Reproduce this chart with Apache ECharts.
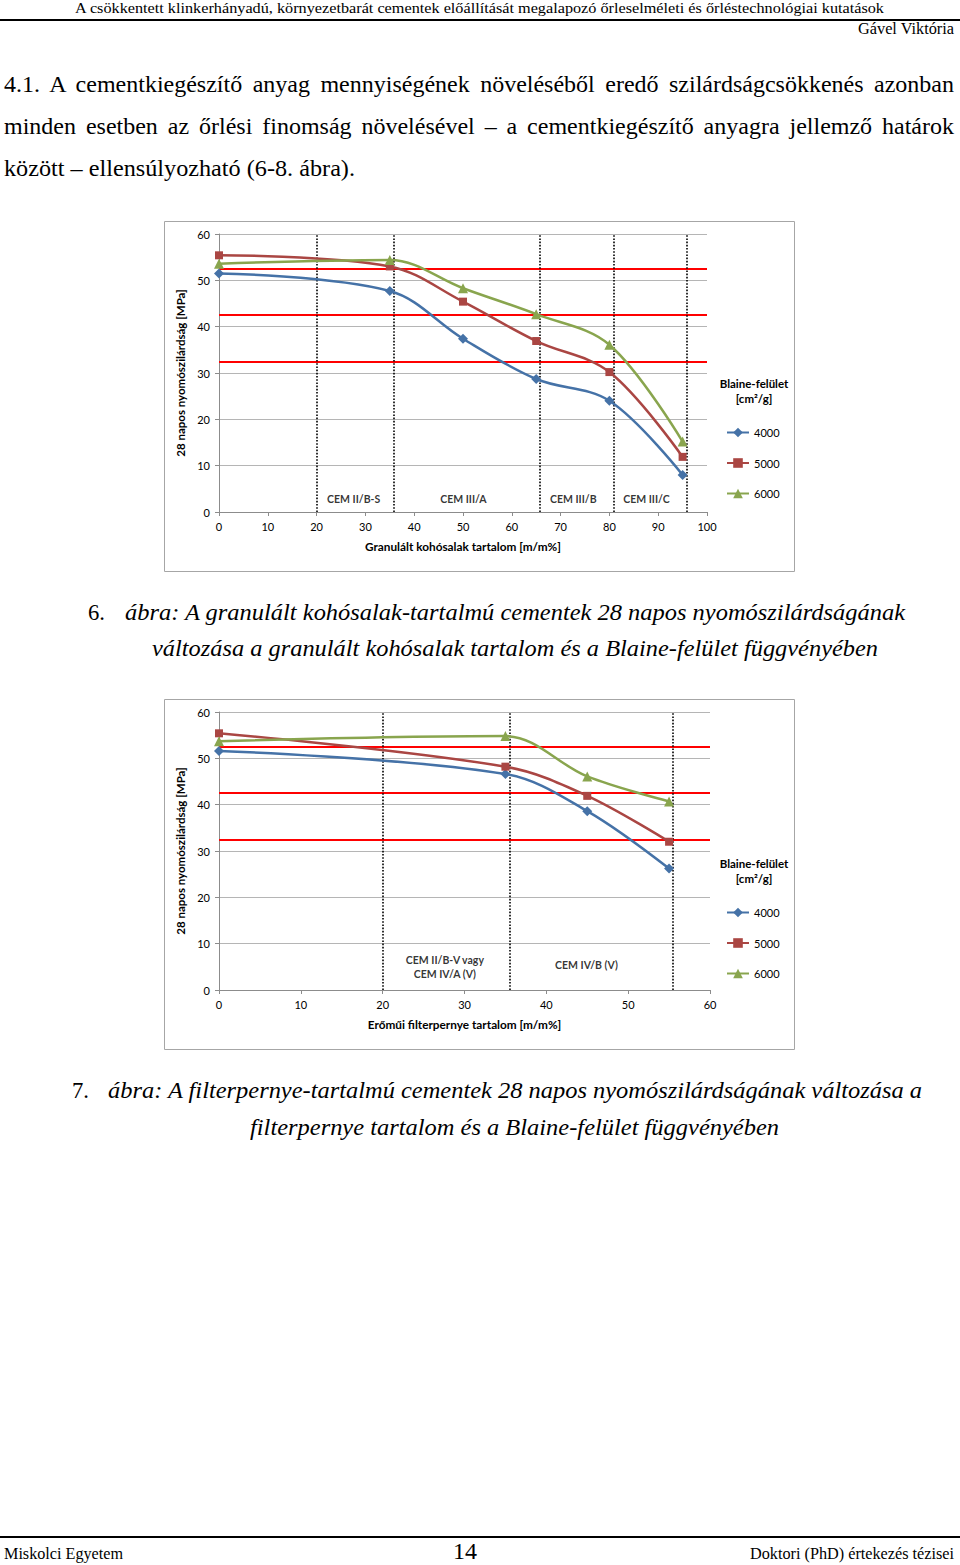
<!DOCTYPE html>
<html>
<head>
<meta charset="utf-8">
<script src="https://cdn.jsdelivr.net/npm/echarts/dist/echarts.min.js"></script>
<style>
  html, body { margin:0; padding:0; background:#fff; }
  body { width:960px; height:1565px; position:relative; overflow:hidden; }
  .t { position:absolute; white-space:nowrap; line-height:1; font-family:"Liberation Serif","Times New Roman",serif; color:#000; transform-origin:0 50%; }
  .i { font-style:italic; }
  .rule { position:absolute; left:0; width:960px; background:#000; }
  .chart { position:absolute; left:164px; width:631px; height:352px; }
</style>
</head>
<body>
<div class="rule" style="top:19px;height:2px;"></div>
<div class="rule" style="top:1536px;height:1.5px;"></div>

<div class="t" data-x1="75" data-x2="884" data-cy="8" style="font-size:15px">A csökkentett klinkerhányadú, környezetbarát cementek előállítását megalapozó őrleselméleti és őrléstechnológiai kutatások</div>
<div class="t" data-x1="858" data-x2="954" data-cy="29" style="font-size:16px">Gável Viktória</div>

<div class="t" data-x1="4" data-x2="954" data-cy="84" data-just="1" style="font-size:24px">4.1. A cementkiegészítő anyag mennyiségének növeléséből eredő szilárdságcsökkenés azonban</div>
<div class="t" data-x1="4" data-x2="954" data-cy="126" data-just="1" style="font-size:24px">minden esetben az őrlési finomság növelésével – a cementkiegészítő anyagra jellemző határok</div>
<div class="t" data-x1="4" data-x2="355" data-cy="168" style="font-size:24px">között – ellensúlyozható (6-8. ábra).</div>

<div id="c1" class="chart" style="top:221px"></div>

<div class="t" data-x1="88" data-x2="105" data-cy="612" style="font-size:23px">6.</div>
<div class="t i" data-x1="125" data-x2="905" data-cy="612" style="font-size:24px">ábra: A granulált kohósalak-tartalmú cementek 28 napos nyomószilárdságának</div>
<div class="t i" data-x1="152" data-x2="878" data-cy="648" style="font-size:24px">változása a granulált kohósalak tartalom és a Blaine-felület függvényében</div>

<div id="c2" class="chart" style="top:699px"></div>

<div class="t" data-x1="72" data-x2="89" data-cy="1090" style="font-size:23px">7.</div>
<div class="t i" data-x1="108" data-x2="922" data-cy="1090" style="font-size:24px">ábra: A filterpernye-tartalmú cementek 28 napos nyomószilárdságának változása a</div>
<div class="t i" data-x1="250" data-x2="779" data-cy="1127" style="font-size:24px">filterpernye tartalom és a Blaine-felület függvényében</div>

<div class="t" data-x1="4" data-x2="123" data-cy="1554" style="font-size:16px">Miskolci Egyetem</div>
<div class="t" data-x1="453" data-x2="477" data-cy="1551" style="font-size:24px">14</div>
<div class="t" data-x1="750" data-x2="954" data-cy="1554" style="font-size:16px">Doktori (PhD) értekezés tézisei</div>

<script>
// ---- Data: figure 6 (granulated blast-furnace slag) ----
var slagX    = [0, 35, 50, 65, 80, 95];
var slag4000 = [51.5, 47.7, 37.4, 28.7, 24.0, 8.0];
var slag5000 = [55.4, 53.0, 45.4, 36.9, 30.2, 11.9];
var slag6000 = [53.6, 54.4, 48.3, 42.7, 36.1, 15.2];
var slagBounds = [20, 35.8, 65.8, 80.9, 95.9];
var slagClasses = ['CEM II/B-S', 'CEM III/A', 'CEM III/B', 'CEM III/C'];
var slagClassX  = [27.6, 50.1, 72.6, 87.6];
var slagClassY  = [2.75, 2.75, 2.75, 2.75];

// ---- Data: figure 7 (fly ash) ----
var ashX    = [0, 35, 45, 55];
var ash4000 = [51.6, 46.6, 38.6, 26.2];
var ash5000 = [55.4, 48.2, 41.9, 32.0];
var ash6000 = [53.7, 54.8, 46.1, 40.7];
var ashBounds = [20, 35.5, 55.5];
var ashClasses = ['CEM II/B-V vagy\nCEM IV/A (V)', 'CEM IV/B (V)'];
var ashClassX  = [27.6, 44.9];
var ashClassY  = [5.0, 5.5];

// ---- Shared ----
var strengthLimits = [52.5, 42.5, 32.5];
var seriesNames = ['4000', '5000', '6000'];
var yTicks = [0, 60, 10];

// ---- Page text fitting ----
document.querySelectorAll('.t').forEach(function (el) {
  var r = el.getBoundingClientRect();
  var w = r.width, h = r.height;
  var cy = +el.dataset.cy;
  var x1 = +el.dataset.x1, x2 = +el.dataset.x2;
  el.style.top = (cy - h / 2) + 'px';
  el.style.left = x1 + 'px';
  if (el.dataset.just) {
    var spaces = (el.textContent.match(/ /g) || []).length;
    el.style.wordSpacing = ((x2 - x1 - w) / spaces) + 'px';
  } else {
    el.style.transform = 'scaleX(' + ((x2 - x1) / w) + ')';
  }
});

// ---- Charts ----
var COLORS = ['#4572A7', '#AA4643', '#89A54E'];
var SYMBOLS = ['diamond', 'rect', 'triangle'];
var SYMSIZE = [10, 8, 10];
var FONT = 'Lato, "Open Sans", sans-serif';

function makeChart(id, cfg) {
  var chart = echarts.init(document.getElementById(id), null, { renderer: 'svg' });
  var series = cfg.values.map(function (vals, k) {
    return {
      name: seriesNames[k],
      type: 'line',
      smooth: 0.35,
      data: cfg.xs.map(function (x, i) { return [x, vals[i]]; }),
      symbol: SYMBOLS[k],
      symbolSize: SYMSIZE[k],
      lineStyle: { width: 2.5, color: COLORS[k] },
      itemStyle: { color: COLORS[k] },
      z: 5
    };
  });
  series.push({
    type: 'scatter',
    silent: true,
    symbolSize: 0,
    z: 2,
    data: cfg.classes.map(function (c, i) { return { value: [cfg.classX[i], cfg.classY[i]], name: c }; }),
    label: {
      show: true, position: 'inside', formatter: function (p) { return p.name; },
      fontFamily: FONT, fontSize: 10.5, fontWeight: 'bold', color: '#000', lineHeight: 14
    },
    markLine: {
      silent: true, symbol: 'none', animation: false,
      label: { show: false },
      data: strengthLimits.map(function (v) {
        return { yAxis: v, lineStyle: { color: '#ff0000', width: 2, type: 'solid' } };
      }).concat(cfg.bounds.map(function (v) {
        return { xAxis: v, lineStyle: { color: '#000', width: 1.6, type: [1.6, 1.6] } };
      }))
    }
  });
  chart.setOption({
    animation: false,
    grid: { left: 55, right: cfg.gridRight, top: 13, bottom: 61 },
    graphic: [
      { type: 'rect', shape: { x: 0.5, y: 0.5, width: 630, height: 350 }, style: { fill: 'none', stroke: '#a6a6a6', lineWidth: 1 } },
      { type: 'text', x: 590, y: cfg.legTitleY, style: { text: 'Blaine-felület', fontFamily: FONT, fontSize: 11.5, fontWeight: 'bold', fill: '#000', align: 'center', verticalAlign: 'middle' } },
      { type: 'text', x: 590, y: cfg.legTitleY + 15, style: { text: '[cm²/g]', fontFamily: FONT, fontSize: 11.5, fontWeight: 'bold', fill: '#000', align: 'center', verticalAlign: 'middle' } }
    ],
    legend: {
      data: seriesNames, orient: 'vertical', left: 557, top: cfg.legTop, itemGap: 19.5,
      itemWidth: 22, itemHeight: 12,
      textStyle: { fontFamily: FONT, fontSize: 11, color: '#000' }
    },
    xAxis: {
      type: 'value', min: 0, max: cfg.xMax, interval: 10,
      name: cfg.xName, nameLocation: 'middle', nameGap: 28,
      nameTextStyle: { fontFamily: FONT, fontSize: 11.8, fontWeight: 'bold', color: '#000' },
      axisLine: { show: true, lineStyle: { color: '#8c8c8c' } },
      axisTick: { show: true, length: 4, lineStyle: { color: '#8c8c8c' } },
      axisLabel: { fontFamily: FONT, fontSize: 11, color: '#000', margin: 9 },
      splitLine: { show: false }
    },
    yAxis: {
      type: 'value', min: yTicks[0], max: yTicks[1], interval: yTicks[2],
      name: '28 napos nyomószilárdság [MPa]', nameLocation: 'middle', nameGap: 25,
      nameTextStyle: { fontFamily: FONT, fontSize: 11.5, fontWeight: 'bold', color: '#000' },
      axisLine: { show: true, lineStyle: { color: '#8c8c8c' } },
      axisTick: { show: true, length: 4, lineStyle: { color: '#8c8c8c' } },
      axisLabel: { fontFamily: FONT, fontSize: 11, color: '#000', margin: 9 },
      splitLine: { show: true, lineStyle: { color: '#b5b5b5', width: 1 } }
    },
    series: series
  });
}

makeChart('c1', {
  xs: slagX, values: [slag4000, slag5000, slag6000], xMax: 100, gridRight: 88,
  xName: 'Granulált kohósalak tartalom [m/m%]',
  bounds: slagBounds, classes: slagClasses, classX: slagClassX, classY: slagClassY,
  legTop: 201, legTitleY: 162
});
makeChart('c2', {
  xs: ashX, values: [ash4000, ash5000, ash6000], xMax: 60, gridRight: 85,
  xName: 'Erőműi filterpernye tartalom [m/m%]',
  bounds: ashBounds, classes: ashClasses, classX: ashClassX, classY: ashClassY,
  legTop: 203, legTitleY: 164
});
</script>
</body>
</html>
